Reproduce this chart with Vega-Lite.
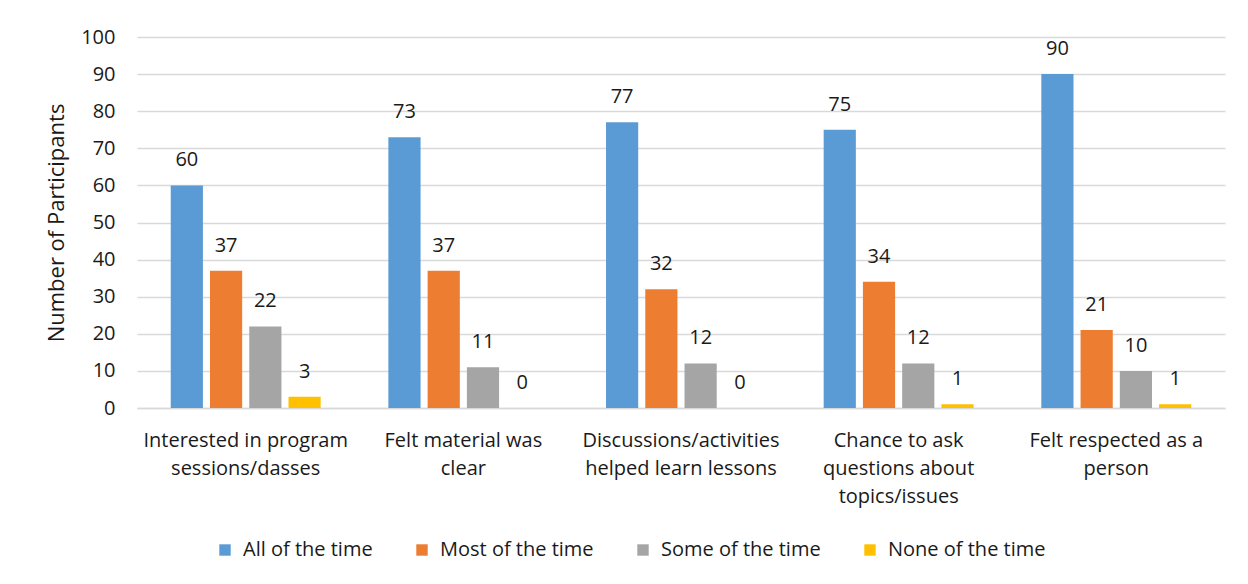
{
  "$schema": "https://vega.github.io/schema/vega-lite/v6.json",
  "width": 1088,
  "height": 371,
  "autosize": {"type": "none"},
  "padding": {"left": 137, "top": 37, "right": 23, "bottom": 176},
  "background": "white",
  "config": {
    "font": "Open Sans",
    "view": {"stroke": null},
    "axis": {"labelColor": "#1a1a1a", "titleColor": "#1a1a1a", "labelFont": "Open Sans", "titleFont": "Open Sans"},
    "legend": {"labelFont": "Open Sans", "labelColor": "#1a1a1a"}
  },
  "data": {
    "values": [
      {"cat": "Interested in program|sessions/dasses", "series": "All of the time", "value": 60},
      {"cat": "Interested in program|sessions/dasses", "series": "Most of the time", "value": 37},
      {"cat": "Interested in program|sessions/dasses", "series": "Some of the time", "value": 22},
      {"cat": "Interested in program|sessions/dasses", "series": "None of the time", "value": 3},
      {"cat": "Felt material was|clear", "series": "All of the time", "value": 73},
      {"cat": "Felt material was|clear", "series": "Most of the time", "value": 37},
      {"cat": "Felt material was|clear", "series": "Some of the time", "value": 11},
      {"cat": "Felt material was|clear", "series": "None of the time", "value": 0},
      {"cat": "Discussions/activities|helped learn lessons", "series": "All of the time", "value": 77},
      {"cat": "Discussions/activities|helped learn lessons", "series": "Most of the time", "value": 32},
      {"cat": "Discussions/activities|helped learn lessons", "series": "Some of the time", "value": 12},
      {"cat": "Discussions/activities|helped learn lessons", "series": "None of the time", "value": 0},
      {"cat": "Chance to ask|questions about|topics/issues", "series": "All of the time", "value": 75},
      {"cat": "Chance to ask|questions about|topics/issues", "series": "Most of the time", "value": 34},
      {"cat": "Chance to ask|questions about|topics/issues", "series": "Some of the time", "value": 12},
      {"cat": "Chance to ask|questions about|topics/issues", "series": "None of the time", "value": 1},
      {"cat": "Felt respected as a|person", "series": "All of the time", "value": 90},
      {"cat": "Felt respected as a|person", "series": "Most of the time", "value": 21},
      {"cat": "Felt respected as a|person", "series": "Some of the time", "value": 10},
      {"cat": "Felt respected as a|person", "series": "None of the time", "value": 1}
    ]
  },
  "encoding": {
    "x": {
      "field": "cat", "type": "nominal",
      "sort": ["Interested in program|sessions/dasses", "Felt material was|clear", "Discussions/activities|helped learn lessons", "Chance to ask|questions about|topics/issues", "Felt respected as a|person"],
      "scale": {"paddingInner": 0.311, "paddingOuter": 0.155},
      "axis": {
        "title": null, "labelAngle": 0, "labelFontSize": 20, "labelLineHeight": 28,
        "labelPadding": 22, "labelLimit": 0, "ticks": false, "domainColor": "#D9D9D9", "domainWidth": 1.5,
        "labelExpr": "split(datum.label, '|')", "grid": false, "labelBaseline": "top"
      }
    },
    "xOffset": {
      "field": "series", "type": "nominal",
      "sort": ["All of the time", "Most of the time", "Some of the time", "None of the time"],
      "scale": {"paddingInner": 0.18, "paddingOuter": 0}
    },
    "y": {
      "field": "value", "type": "quantitative",
      "scale": {"domain": [0, 100], "nice": false},
      "axis": {
        "title": "Number of Participants", "titleFontSize": 22, "titleFontWeight": "normal", "titlePadding": 12,
        "values": [0, 10, 20, 30, 40, 50, 60, 70, 80, 90, 100],
        "labelFontSize": 20, "labelPadding": 22, "ticks": false, "domain": false,
        "gridColor": "#D9D9D9", "gridWidth": 1.5
      }
    }
  },
  "layer": [
    {
      "mark": {"type": "bar"},
      "encoding": {
        "color": {
          "field": "series", "type": "nominal",
          "sort": ["All of the time", "Most of the time", "Some of the time", "None of the time"],
          "scale": {"domain": ["All of the time", "Most of the time", "Some of the time", "None of the time"], "range": ["#5B9BD5", "#ED7D31", "#A5A5A5", "#FFC000"]},
          "legend": {
            "title": null, "orient": "none", "direction": "horizontal", "legendX": 78, "legendY": 503,
            "symbolType": "square", "symbolSize": 130, "symbolStrokeWidth": 0, "labelFontSize": 20,
            "columnPadding": 39, "labelOffset": 8
          }
        }
      }
    },
    {
      "mark": {"type": "text", "baseline": "alphabetic", "dy": -19, "fontSize": 20, "color": "#1a1a1a"},
      "encoding": {"text": {"field": "value", "type": "quantitative"}}
    }
  ]
}
